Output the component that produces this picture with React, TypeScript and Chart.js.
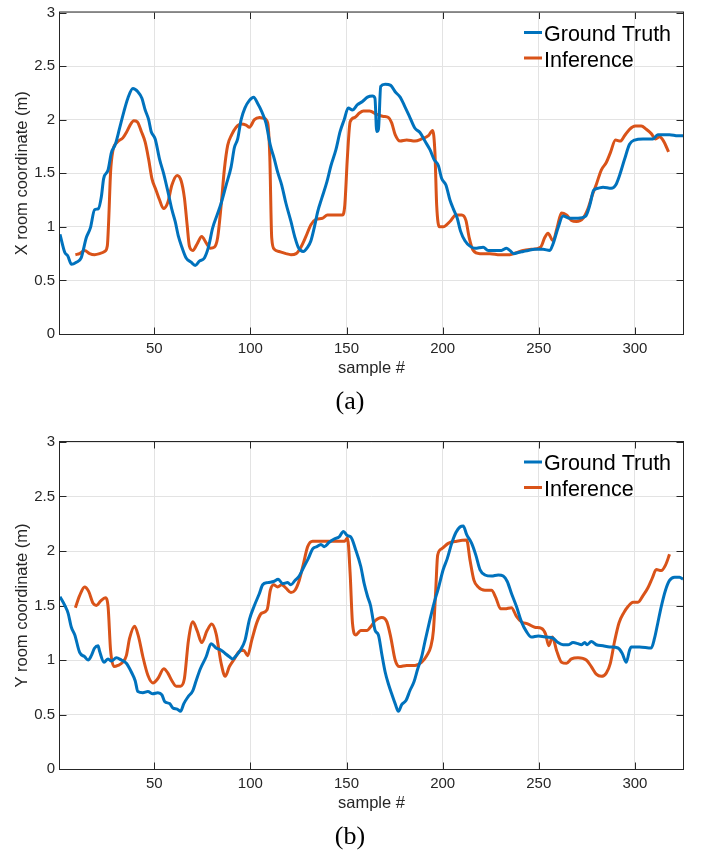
import React, { useEffect, useRef } from 'react';
import { Chart, registerables } from 'chart.js';

Chart.register(...registerables);

// ---------- data ----------
const X_TICKS = [50, 100, 150, 200, 250, 300];
const Y_TICKS = [0, 0.5, 1, 1.5, 2, 2.5, 3];
const X_MIN = 1;
const X_MAX = 325;
const Y_MIN = 0;
const Y_MAX = 3;
const SERIES_LABELS = ['Ground Truth', 'Inference'];
const SERIES_COLORS = ['#0072BD', '#D95319'];
const X_AXIS_TITLE = 'sample #';
const Y_TITLE_A = 'X room coordinate (m)';
const Y_TITLE_B = 'Y room coordinate (m)';
const CAPTION_A = '(a)';
const CAPTION_B = '(b)';

// (a) X coordinate – ground truth
const XGT_S = [1, 3.5, 5, 7, 9.5, 12, 14.7, 16.8, 19, 21, 22.5, 23.7, 26, 27.7, 29.8, 32, 34.3, 36.3, 38.9, 41.5, 43.6, 45.3, 47.1, 48.4, 50.5, 52.8, 55, 57.1, 59.2, 60.9, 62.6, 64.4, 66.6, 69.2, 71.3, 73.5, 76.1, 78.2, 80.4, 82.7, 84.8, 87.4, 90, 91.7, 93.4, 95.2, 97.2, 99.5, 101.7, 103.8, 105.8, 108.1, 110.4, 112.5, 114.2, 116.3, 118.5, 121.1, 123.2, 124.9, 127.5, 129.8, 131.5, 133.2, 135, 137.2, 139.8, 141.9, 144.5, 146.7, 148.8, 150.9, 153.1, 155.7, 158.3, 160.9, 163.5, 164.8, 165.7, 166.6, 167.8, 170.1, 173, 175.3, 177.9, 180.4, 183, 185.6, 188.2, 190.8, 193.4, 195.5, 197.8, 199.5, 201.7, 203.8, 205.5, 207.6, 209.3, 211.6, 214.2, 216.8, 221.1, 223.7, 228, 230.6, 233.2, 234.9, 237, 239.3, 241.9, 244.5, 247.9, 252.2, 255.7, 257.4, 260, 262.6, 266.1, 270.4, 274.4, 276.5, 278.5, 280.8, 283.4, 287.7, 290, 292, 294.6, 297.2, 299.8, 304.2, 309.3, 311.9, 314.5, 318, 322.3, 325];
const XGT_V = [0.93, 0.76, 0.73, 0.65, 0.67, 0.71, 0.9, 0.99, 1.16, 1.17, 1.28, 1.45, 1.53, 1.69, 1.77, 1.92, 2.08, 2.2, 2.29, 2.26, 2.2, 2.09, 2.0, 1.89, 1.82, 1.63, 1.49, 1.33, 1.16, 1.05, 0.91, 0.81, 0.71, 0.67, 0.64, 0.68, 0.71, 0.81, 0.99, 1.11, 1.22, 1.39, 1.56, 1.74, 1.82, 2.0, 2.11, 2.18, 2.21, 2.15, 2.08, 1.97, 1.76, 1.63, 1.51, 1.39, 1.22, 1.05, 0.9, 0.81, 0.77, 0.81, 0.87, 0.99, 1.14, 1.27, 1.42, 1.57, 1.72, 1.89, 2.0, 2.11, 2.09, 2.14, 2.17, 2.21, 2.22, 2.2, 1.89, 1.91, 2.31, 2.33, 2.32, 2.26, 2.21, 2.12, 2.02, 1.92, 1.88, 1.8, 1.72, 1.63, 1.57, 1.45, 1.39, 1.25, 1.17, 1.08, 0.96, 0.87, 0.82, 0.8, 0.81, 0.78, 0.78, 0.78, 0.8, 0.78, 0.75, 0.76, 0.77, 0.78, 0.79, 0.79, 0.78, 0.84, 0.99, 1.1, 1.08, 1.08, 1.1, 1.2, 1.34, 1.36, 1.37, 1.36, 1.39, 1.48, 1.63, 1.77, 1.81, 1.82, 1.82, 1.86, 1.86, 1.86, 1.85, 1.85];

// (a) X coordinate – inference
const XIN_S = [9, 11.2, 13.8, 16.4, 19, 21.6, 24.2, 25.6, 26.3, 27.3, 28.5, 30.8, 33.7, 35.5, 37.2, 39.4, 41.2, 43.3, 45.3, 47.1, 48.8, 51, 52.8, 54.8, 57.1, 59.2, 61.9, 64, 65.7, 67.1, 68.3, 70.1, 72.3, 74.7, 77, 79.2, 81.3, 83, 84.8, 86.5, 88.2, 90.3, 92.6, 95.2, 97.8, 99.5, 102.1, 104.7, 107.3, 109, 110.1, 111.1, 112.5, 115.1, 118.5, 121.1, 123.8, 126.3, 128.9, 131.5, 134.1, 137.5, 140.1, 143.6, 147.9, 149.1, 150.5, 151.9, 154.3, 156.6, 158.8, 162, 165.7, 169.2, 171.8, 173.5, 175.3, 177.9, 181.3, 185.6, 189.1, 192.6, 194.8, 196, 196.9, 198.3, 200.3, 203.8, 206.9, 209.9, 212.1, 213.8, 215.9, 219.4, 224.6, 229.8, 235, 238.4, 241.9, 246.2, 250.9, 253.1, 254.8, 257.4, 259.5, 261.8, 264.4, 267, 269.6, 273, 275.6, 277.9, 280, 282.5, 285.1, 287.2, 289.9, 292.4, 294.6, 297.2, 300.2, 303.3, 305.9, 308.5, 310.7, 312.8, 314.9, 317.5];
const XIN_V = [0.74, 0.75, 0.78, 0.75, 0.74, 0.75, 0.77, 0.82, 1.05, 1.51, 1.71, 1.79, 1.83, 1.88, 1.94, 1.99, 1.98, 1.89, 1.79, 1.63, 1.45, 1.34, 1.25, 1.17, 1.23, 1.39, 1.48, 1.43, 1.27, 1.02, 0.82, 0.78, 0.84, 0.91, 0.85, 0.8, 0.81, 0.9, 1.2, 1.54, 1.76, 1.86, 1.93, 1.96, 1.95, 1.93, 2.0, 2.02, 2.01, 1.97, 1.66, 0.9, 0.79, 0.77, 0.75, 0.74, 0.75, 0.81, 0.91, 1.02, 1.07, 1.08, 1.11, 1.11, 1.11, 1.2, 1.66, 1.98, 2.02, 2.06, 2.08, 2.08, 2.05, 2.03, 2.02, 1.97, 1.86, 1.8, 1.81, 1.8, 1.82, 1.85, 1.9, 1.69, 1.2, 1.0, 1.0, 1.05, 1.11, 1.11, 1.06, 0.9, 0.78, 0.75, 0.75, 0.74, 0.74, 0.76, 0.78, 0.79, 0.81, 0.9, 0.94, 0.87, 0.99, 1.13, 1.11, 1.06, 1.05, 1.08, 1.17, 1.3, 1.4, 1.53, 1.6, 1.69, 1.81, 1.8, 1.85, 1.91, 1.94, 1.94, 1.91, 1.87, 1.82, 1.84, 1.8, 1.7];

// (b) Y coordinate – ground truth
const YGT_S = [1, 3.5, 5.2, 6.9, 8.7, 11.2, 13.8, 15.6, 17.3, 19, 20.8, 21.6, 23.9, 26, 27.7, 30.3, 32.9, 35.5, 38.1, 40.1, 41.5, 44.1, 46.7, 49.3, 51.9, 54, 55.4, 58, 59.7, 61.9, 63.7, 65.4, 67.5, 70.1, 71.8, 74, 77, 79.6, 82.2, 84.8, 86.9, 89.1, 90.8, 92.6, 94.8, 97.2, 99.5, 102.1, 104.7, 106.4, 109, 112.1, 114.5, 116.8, 119.4, 121.1, 123.2, 125.4, 128, 130.1, 132.4, 134.6, 136.7, 138.4, 141, 143.6, 146.2, 148.4, 150.5, 152.2, 154.8, 157.4, 159.2, 161, 162.5, 163.7, 164.9, 166.6, 168.3, 170.1, 171.8, 173.5, 175.3, 177, 178.7, 181, 183, 185.1, 186.9, 189.1, 190.8, 193.4, 195.5, 197.8, 200.3, 202.4, 204.7, 206.9, 209, 210.7, 212.5, 215.1, 217.3, 219.4, 222, 225.4, 228.9, 231.5, 233.6, 235.8, 238.4, 241, 243.6, 246.2, 249.7, 254, 257.4, 260, 262.6, 265.2, 267.8, 270.4, 272.1, 273.9, 275.1, 277.3, 279.9, 283.4, 286.9, 291.2, 293.4, 295.5, 297.2, 298.1, 302.4, 308.5, 310.2, 311.9, 313.7, 315.9, 318, 320.6, 323.2, 325];
const YGT_V = [1.58, 1.5, 1.43, 1.3, 1.23, 1.07, 1.03, 1.0, 1.04, 1.11, 1.13, 1.08, 0.98, 1.01, 0.99, 1.02, 1.0, 0.97, 0.89, 0.81, 0.71, 0.7, 0.71, 0.69, 0.7, 0.68, 0.62, 0.6, 0.56, 0.55, 0.53, 0.6, 0.66, 0.72, 0.81, 0.92, 1.03, 1.15, 1.11, 1.09, 1.06, 1.03, 1.01, 1.04, 1.09, 1.18, 1.37, 1.5, 1.61, 1.69, 1.71, 1.72, 1.74, 1.7, 1.71, 1.69, 1.73, 1.77, 1.86, 1.93, 2.02, 2.04, 2.06, 2.04, 2.08, 2.11, 2.13, 2.18, 2.14, 2.13, 2.01, 1.86, 1.7, 1.58, 1.5, 1.38, 1.27, 1.23, 1.06, 0.89, 0.78, 0.69, 0.6, 0.53, 0.59, 0.63, 0.72, 0.8, 0.91, 1.03, 1.17, 1.37, 1.52, 1.66, 1.83, 1.93, 2.07, 2.17, 2.22, 2.23, 2.15, 2.07, 1.96, 1.83, 1.78, 1.77, 1.78, 1.77, 1.72, 1.61, 1.49, 1.35, 1.26, 1.21, 1.22, 1.21, 1.2, 1.16, 1.14, 1.14, 1.16, 1.15, 1.14, 1.16, 1.14, 1.17, 1.14, 1.13, 1.12, 1.11, 1.06, 0.98, 1.09, 1.12, 1.12, 1.11, 1.2, 1.34, 1.49, 1.64, 1.73, 1.76, 1.76, 1.74];

// (b) Y coordinate – inference
const YIN_S = [9, 11.2, 13.8, 15.9, 18.2, 19.9, 22.1, 24.6, 26, 27.3, 29.1, 31.1, 33.7, 35.5, 37.2, 39.8, 41.9, 44.1, 46.7, 49.3, 51.9, 55, 57.1, 59.2, 61.4, 63.7, 65.7, 67.8, 70.1, 72.3, 74.7, 77.5, 79.9, 82.2, 84.8, 86.9, 89.1, 91.7, 94.3, 96.5, 98.6, 100.7, 103.5, 105.9, 108.7, 110.4, 112.1, 114.2, 116.3, 118.5, 121.1, 123.2, 125.4, 127.7, 129.8, 132.4, 138.4, 145.3, 149.1, 150.5, 151.9, 153.1, 154.8, 157.4, 160.6, 162.8, 164.9, 168.3, 171, 173, 175.3, 177.5, 181.3, 185.6, 189.1, 191.7, 193.8, 195.2, 196.4, 197.4, 199.5, 202.9, 207.3, 212.5, 214.2, 216.3, 218.5, 222, 225.4, 227.7, 230.1, 232.4, 235.8, 238.4, 241, 244.5, 247.9, 251.4, 253.5, 255.2, 257.1, 259.2, 261.8, 264.4, 267, 270.4, 274.7, 277.3, 279.9, 282.5, 285.1, 287.2, 289.4, 291.7, 294.1, 296.4, 299, 301.6, 304.2, 306.7, 309, 311.1, 313.7, 315.9, 318];
const YIN_V = [1.48, 1.59, 1.67, 1.63, 1.52, 1.5, 1.54, 1.57, 1.49, 1.09, 0.94, 0.95, 0.98, 1.04, 1.2, 1.31, 1.21, 1.03, 0.86, 0.79, 0.83, 0.92, 0.88, 0.81, 0.76, 0.76, 0.83, 1.18, 1.35, 1.27, 1.16, 1.27, 1.33, 1.24, 0.97, 0.85, 0.94, 1.01, 1.08, 1.09, 1.04, 1.18, 1.35, 1.43, 1.46, 1.64, 1.69, 1.67, 1.69, 1.66, 1.62, 1.64, 1.73, 1.89, 2.04, 2.09, 2.09, 2.09, 2.09, 2.12, 1.79, 1.34, 1.23, 1.27, 1.27, 1.31, 1.36, 1.39, 1.35, 1.21, 1.0, 0.94, 0.95, 0.95, 0.98, 1.04, 1.12, 1.27, 1.64, 1.96, 2.02, 2.07, 2.09, 2.1, 1.92, 1.73, 1.67, 1.64, 1.64, 1.57, 1.47, 1.47, 1.48, 1.4, 1.35, 1.33, 1.3, 1.29, 1.24, 1.13, 1.21, 1.09, 0.98, 0.97, 1.01, 1.02, 1.0, 0.94, 0.87, 0.85, 0.88, 0.97, 1.17, 1.34, 1.43, 1.49, 1.53, 1.53, 1.59, 1.66, 1.75, 1.83, 1.82, 1.87, 1.97];

// ---------- styling ----------
const SANS = '"Liberation Sans", Arial, Helvetica, sans-serif';
const SERIF = '"Liberation Serif", "Times New Roman", Times, serif';
const AXIS_COLOR = '#262626';
const GRID_COLOR = '#e3e3e3';
const LINE_WIDTH = 3;
const TICK_LEN = 6.5;

function toPoints(xs: number[], ys: number[]) {
  return xs.map((x, i) => ({ x, y: ys[i] }));
}

const matlabFrame = {
  id: 'matlabFrame',
  beforeDatasetsDraw(chart: any) {
    const { ctx, chartArea } = chart;
    const { left, right, top, bottom } = chartArea;
    const xs = chart.scales.x;
    const ys = chart.scales.y;
    ctx.save();
    ctx.strokeStyle = AXIS_COLOR;
    ctx.lineWidth = 1;
    ctx.beginPath();
    for (const v of X_TICKS) {
      const p = Math.round(xs.getPixelForValue(v)) + 0.5;
      ctx.moveTo(p, top);
      ctx.lineTo(p, top + TICK_LEN);
      ctx.moveTo(p, bottom);
      ctx.lineTo(p, bottom - TICK_LEN);
    }
    for (const v of Y_TICKS) {
      const p = Math.round(ys.getPixelForValue(v)) + 0.5;
      ctx.moveTo(left, p);
      ctx.lineTo(left + TICK_LEN, p);
      ctx.moveTo(right, p);
      ctx.lineTo(right - TICK_LEN, p);
    }
    ctx.stroke();
    ctx.strokeRect(left - 0.5, top - 0.5, right - left + 1, bottom - top + 1);
    ctx.restore();
  },
  afterDatasetsDraw(chart: any, _args: any, opts: any) {
    const { ctx, chartArea } = chart;
    ctx.save();
    chart.data.datasets.forEach((ds: any, i: number) => {
      const ly = chartArea.top + 20 + i * 25.5;
      ctx.strokeStyle = ds.borderColor;
      ctx.lineWidth = LINE_WIDTH;
      ctx.beginPath();
      ctx.moveTo(524, ly);
      ctx.lineTo(542, ly);
      ctx.stroke();
      ctx.fillStyle = '#000000';
      ctx.font = `21.5px ${SANS}`;
      ctx.textAlign = 'left';
      ctx.textBaseline = 'alphabetic';
      ctx.fillText(ds.label, 544, chartArea.top + 28 + i * 26);
    });
    if (opts && opts.caption) {
      ctx.fillStyle = '#000000';
      ctx.font = `26px ${SERIF}`;
      ctx.textAlign = 'center';
      ctx.textBaseline = 'middle';
      ctx.fillText(opts.caption, 350, opts.captionY);
    }
    ctx.restore();
  },
};

interface PanelProps {
  top: number;
  height: number;
  padTop: number;
  padBottom: number;
  yTitle: string;
  caption: string;
  captionY: number;
  gtS: number[];
  gtV: number[];
  inS: number[];
  inV: number[];
}

function Panel(p: PanelProps) {
  const ref = useRef<HTMLCanvasElement | null>(null);
  useEffect(() => {
    if (!ref.current) return;
    const tickFont = { family: SANS, size: 15, lineHeight: 1 };
    const titleFont = { family: SANS, size: 16.5, lineHeight: 1 };
    const chart = new Chart(ref.current, {
      type: 'line',
      data: {
        datasets: [
          {
            label: SERIES_LABELS[0],
            data: toPoints(p.gtS, p.gtV),
            borderColor: SERIES_COLORS[0],
            backgroundColor: SERIES_COLORS[0],
            borderWidth: LINE_WIDTH,
            pointRadius: 0,
            fill: false,
            cubicInterpolationMode: 'monotone',
          },
          {
            label: SERIES_LABELS[1],
            data: toPoints(p.inS, p.inV),
            borderColor: SERIES_COLORS[1],
            backgroundColor: SERIES_COLORS[1],
            borderWidth: LINE_WIDTH,
            pointRadius: 0,
            fill: false,
            cubicInterpolationMode: 'monotone',
          },
        ],
      },
      options: {
        responsive: false,
        animation: false,
        events: [],
        layout: { padding: { left: 0, right: 21, top: p.padTop, bottom: p.padBottom } },
        plugins: {
          legend: { display: false },
          tooltip: { enabled: false },
          matlabFrame: { caption: p.caption, captionY: p.captionY },
        } as any,
        scales: {
          x: {
            type: 'linear',
            min: X_MIN,
            max: X_MAX,
            afterBuildTicks: (s: any) => {
              s.ticks = X_TICKS.map((v) => ({ value: v }));
            },
            afterFit: (s: any) => {
              s.height = 46;
            },
            grid: { color: GRID_COLOR, lineWidth: 1, drawTicks: false },
            border: { display: false },
            ticks: {
              font: tickFont,
              color: AXIS_COLOR,
              padding: 7,
              maxRotation: 0,
              autoSkip: false,
              callback: (v: any) => String(v),
            },
            title: {
              display: true,
              text: X_AXIS_TITLE,
              font: titleFont,
              color: AXIS_COLOR,
              padding: { top: 0, bottom: 3.25 },
            },
          },
          y: {
            type: 'linear',
            min: Y_MIN,
            max: Y_MAX,
            afterBuildTicks: (s: any) => {
              s.ticks = Y_TICKS.map((v) => ({ value: v }));
            },
            afterFit: (s: any) => {
              s.width = 60;
            },
            grid: { color: GRID_COLOR, lineWidth: 1, drawTicks: false },
            border: { display: false },
            ticks: {
              font: tickFont,
              color: AXIS_COLOR,
              padding: 5,
              autoSkip: false,
              callback: (v: any) => String(v),
            },
            title: {
              display: true,
              text: p.yTitle,
              font: titleFont,
              color: AXIS_COLOR,
              padding: { top: 14.5, bottom: 0 },
            },
          },
        },
      } as any,
      plugins: [matlabFrame as any],
    });
    return () => chart.destroy();
  }, []);
  return (
    <canvas
      ref={ref}
      width={704}
      height={p.height}
      style={{ position: 'absolute', left: 0, top: p.top, width: 704, height: p.height, display: 'block' }}
    />
  );
}

export default function App() {
  return (
    <div style={{ position: 'absolute', left: 0, top: 0, width: 704, height: 854, background: '#ffffff', overflow: 'hidden' }}>
      <Panel
        top={0}
        height={420}
        padTop={8}
        padBottom={40}
        yTitle={Y_TITLE_A}
        caption={CAPTION_A}
        captionY={402}
        gtS={XGT_S}
        gtV={XGT_V}
        inS={XIN_S}
        inV={XIN_V}
      />
      <Panel
        top={420}
        height={434}
        padTop={22}
        padBottom={39}
        yTitle={Y_TITLE_B}
        caption={CAPTION_B}
        captionY={417.5}
        gtS={YGT_S}
        gtV={YGT_V}
        inS={YIN_S}
        inV={YIN_V}
      />
    </div>
  );
}
